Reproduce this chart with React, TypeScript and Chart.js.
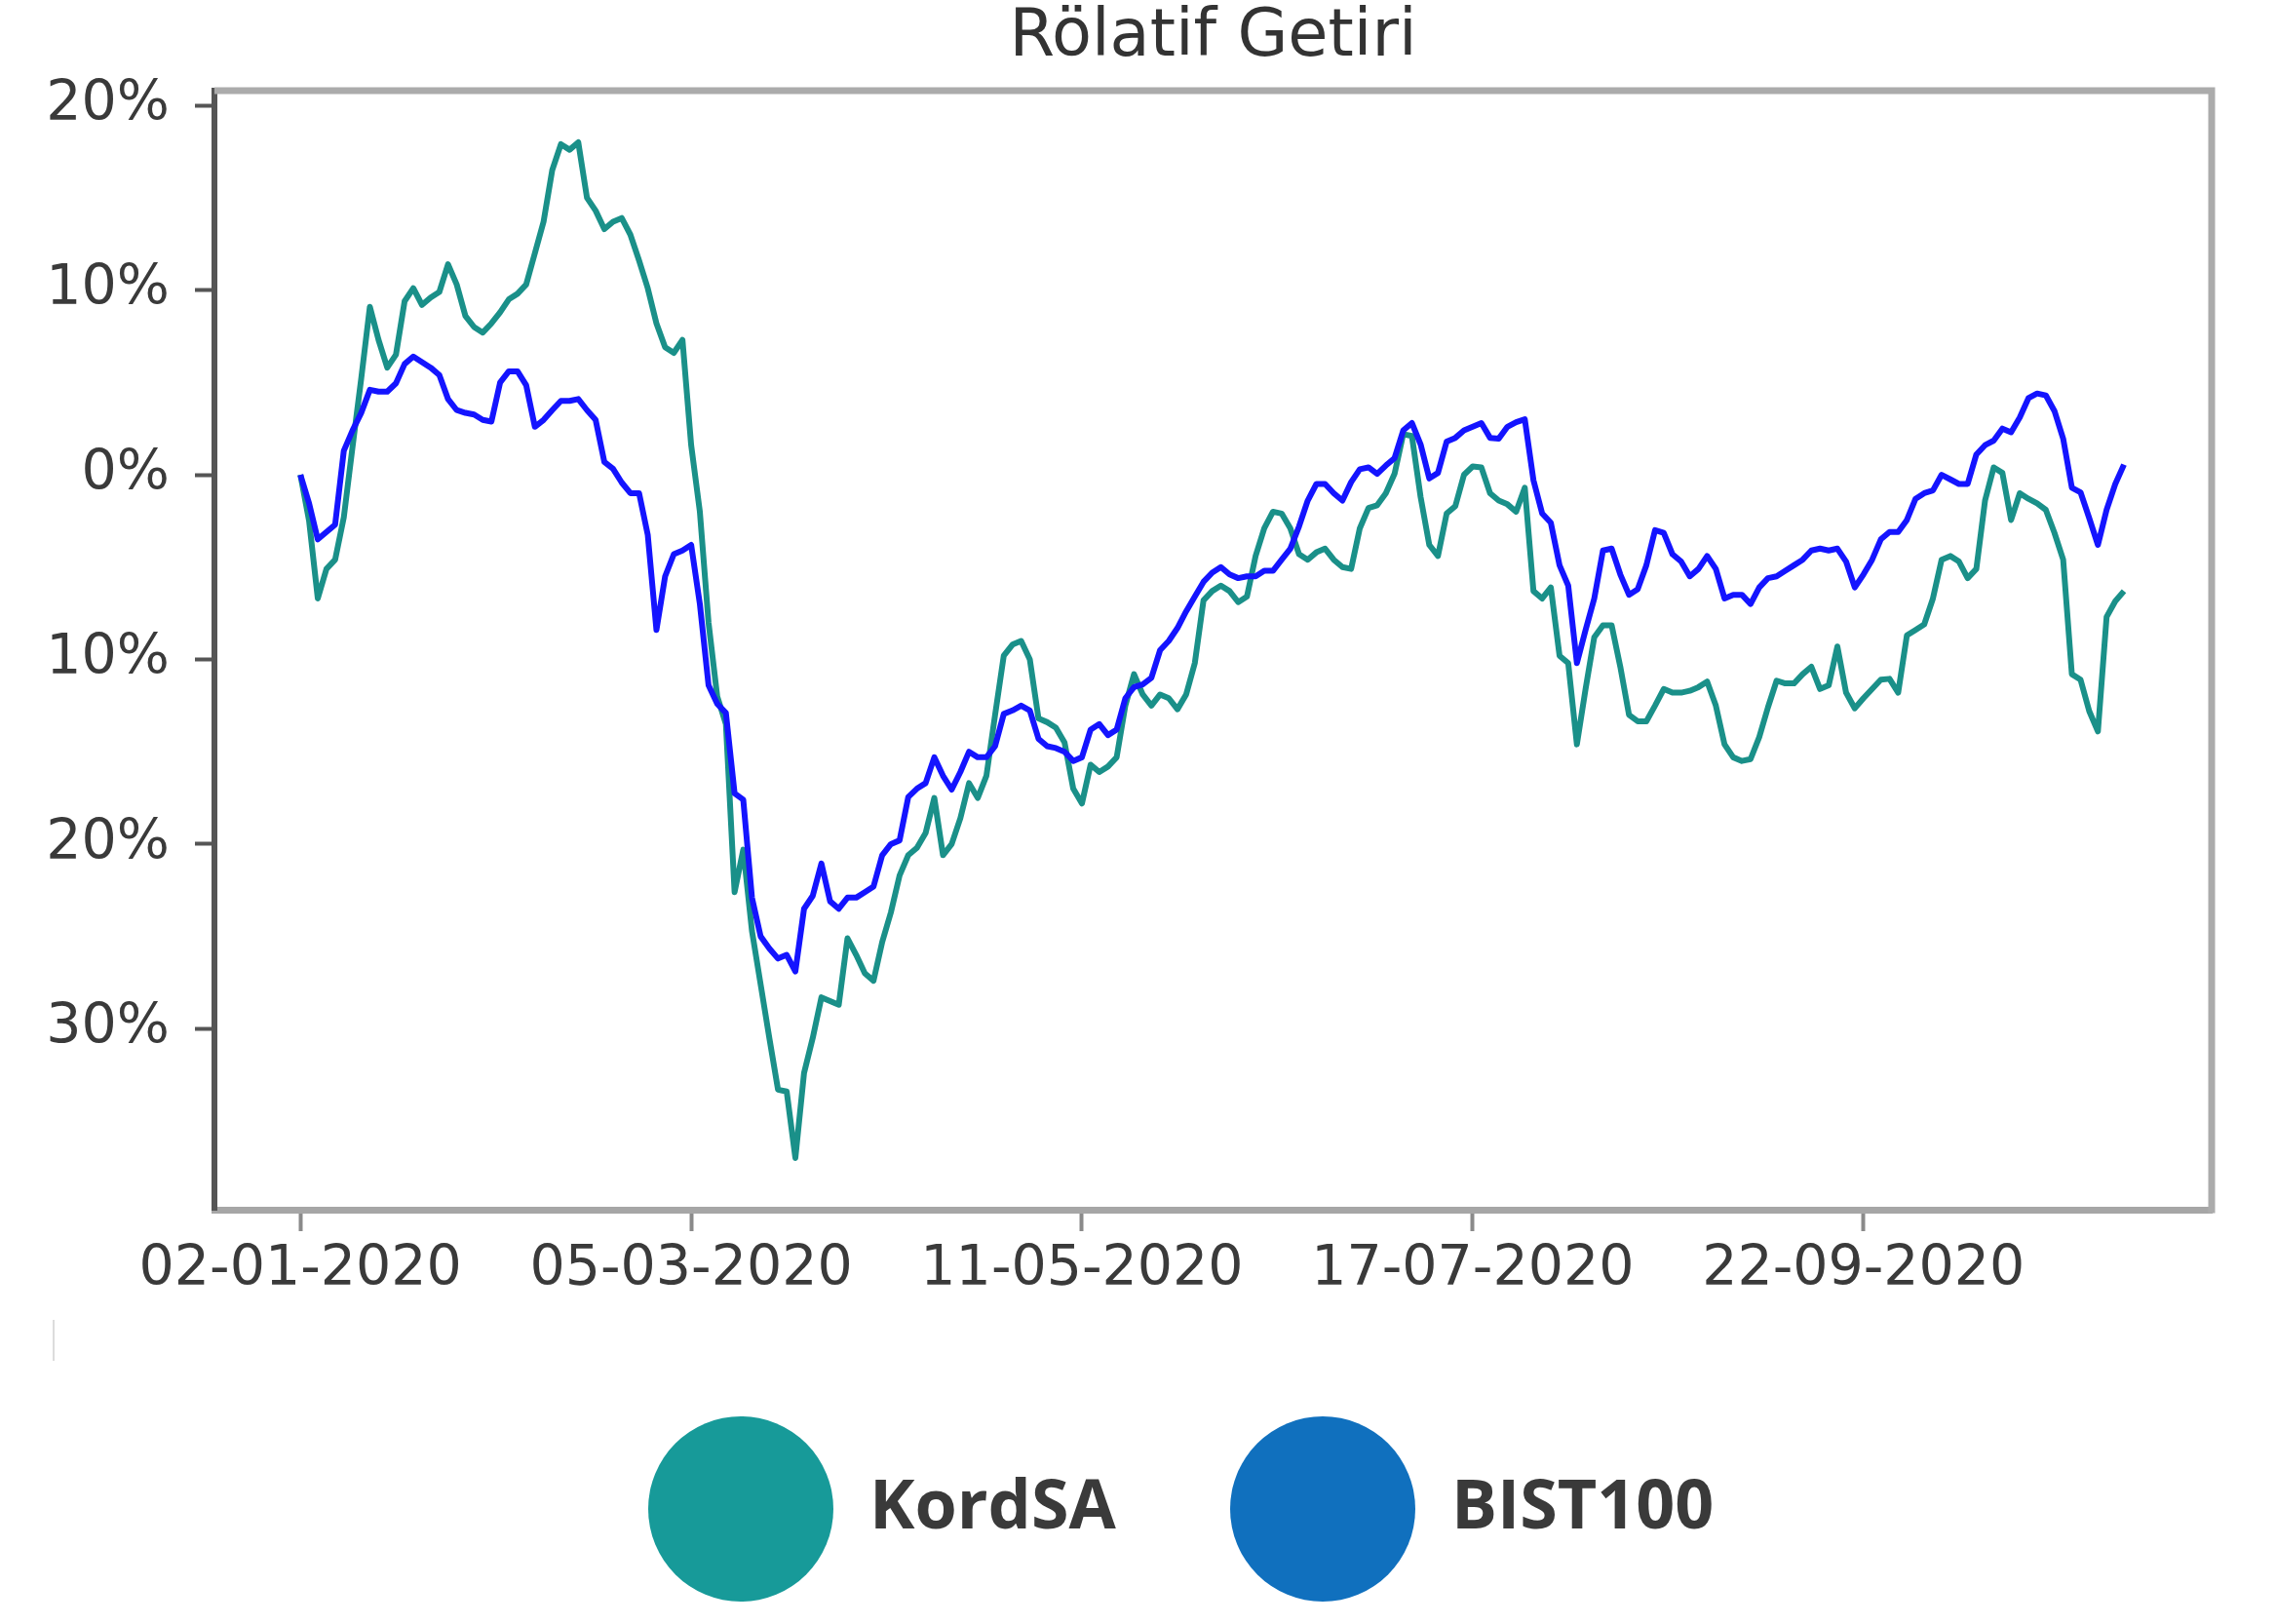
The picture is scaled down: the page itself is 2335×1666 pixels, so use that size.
import React, { useEffect, useRef } from 'react';
import { Chart, registerables } from 'chart.js';

Chart.register(...registerables);

const chartTitle = 'Rölatif Getiri';
const seriesNames = ['KordSA', 'BIST100'];
const lineColors = ['#1a9089', '#1414ff'];
const legendColors = ['#179a99', '#1070be'];

// x ticks: trading-day index -> date label
const xTickIndices = [0, 45, 90, 135, 180];
const xTickLabels = ['02-01-2020', '05-03-2020', '11-05-2020', '17-07-2020', '22-09-2020'];

// y ticks (the source image shows no minus sign)
const yTickValues = [-30, -20, -10, 0, 10, 20];
const yTickLabels = ['30%', '20%', '10%', '0%', '10%', '20%'];

// relative return, % (daily, index 0..210)
const kordsa = [
  0.0, -2.5, -6.7, -5.1, -4.6, -2.3, 1.5, 5.2, 9.1, 7.3,
  5.8, 6.5, 9.4, 10.1, 9.2, 9.6, 9.9, 11.4, 10.3, 8.6,
  8.0, 7.7, 8.2, 8.8, 9.5, 9.8, 10.3, 12.0, 13.7, 16.5,
  17.9, 17.6, 18.0, 15.0, 14.3, 13.3, 13.7, 13.9, 13.0, 11.6,
  10.1, 8.2, 6.9, 6.6, 7.3, 1.6, -2.0, -8.0, -12.0, -13.5,
  -22.6, -20.3, -24.7, -27.6, -30.5, -33.3, -33.4, -37.0, -32.4, -30.5,
  -28.3, -28.5, -28.7, -25.1, -26.0, -27.0, -27.4, -25.3, -23.7, -21.7,
  -20.6, -20.2, -19.4, -17.5, -20.6, -20.0, -18.6, -16.7, -17.5, -16.3,
  -13.0, -9.8, -9.2, -9.0, -10.0, -13.2, -13.4, -13.7, -14.5, -17.0,
  -17.8, -15.7, -16.1, -15.8, -15.3, -12.5, -10.8, -11.9, -12.5, -11.9,
  -12.1, -12.7, -11.9, -10.2, -6.8, -6.3, -6.0, -6.3, -6.9, -6.6,
  -4.4, -2.9, -2.0, -2.1, -2.9, -4.3, -4.6, -4.2, -4.0, -4.6,
  -5.0, -5.1, -2.9, -1.8, -1.65, -1.0, 0.05, 2.2, 2.1, -1.2,
  -3.8, -4.4, -2.1, -1.7, 0.0, 0.45, 0.4, -1.0, -1.4, -1.6,
  -2.0, -0.7, -6.3, -6.7, -6.1, -9.8, -10.2, -14.6, -11.6, -8.8,
  -8.15, -8.15, -10.4, -13.0, -13.35, -13.35, -12.5, -11.6, -11.8, -11.8,
  -11.7, -11.5, -11.2, -12.5, -14.6, -15.3, -15.5, -15.4, -14.2, -12.6,
  -11.15, -11.3, -11.3, -10.8, -10.4, -11.6, -11.4, -9.3, -11.8, -12.65,
  -12.1, -11.6, -11.1, -11.05, -11.8, -8.7, -8.4, -8.1, -6.7, -4.6,
  -4.4, -4.7, -5.6, -5.1, -1.4, 0.4, 0.1, -2.45, -1.0, -1.3,
  -1.55, -1.9, -3.15, -4.6, -10.8, -11.1, -12.8, -13.9, -7.7, -6.85,
  -6.3,
];

const bist100 = [
  0.0, -1.55, -3.5, -3.1, -2.7, 1.3, 2.4, 3.35, 4.6, 4.5,
  4.5, 4.95, 6.0, 6.4, 6.1, 5.8, 5.4, 4.1, 3.5, 3.35,
  3.26, 2.97, 2.88, 5.0, 5.6, 5.6, 4.85, 2.6, 2.97, 3.5,
  4.0, 4.0, 4.1, 3.5, 2.97, 0.7, 0.33, -0.42, -1.0, -1.0,
  -3.25, -8.4, -5.5, -4.3, -4.1, -3.8, -7.0, -11.4, -12.4, -12.9,
  -17.25, -17.6, -22.9, -25.0, -25.65, -26.2, -26.0, -26.9, -23.5, -22.8,
  -21.05, -23.1, -23.5, -22.9, -22.9, -22.6, -22.3, -20.6, -20.0, -19.8,
  -17.45, -17.0, -16.7, -15.3, -16.3, -17.05, -16.1, -15.0, -15.3, -15.3,
  -14.7, -12.95, -12.76, -12.5, -12.76, -14.3, -14.7, -14.8, -15.0, -15.5,
  -15.3, -13.8, -13.5, -14.1, -13.8, -12.1, -11.5, -11.35, -11.0, -9.5,
  -9.0, -8.3, -7.4, -6.6, -5.8, -5.3, -5.0, -5.4, -5.6, -5.5,
  -5.5, -5.2, -5.2, -4.6, -4.0, -2.8, -1.4, -0.5, -0.5, -1.0,
  -1.4, -0.4, 0.3, 0.4, 0.05, 0.5, 0.9, 2.4, 2.8, 1.65,
  -0.2, 0.1, 1.8, 2.0, 2.4, 2.6, 2.8, 2.0, 1.95, 2.6,
  2.85, 3.0, -0.3, -2.1, -2.6, -4.9, -6.0, -10.2, -8.4, -6.7,
  -4.1, -4.0, -5.4, -6.5, -6.2, -4.9, -3.0, -3.15, -4.3, -4.7,
  -5.5, -5.1, -4.4, -5.1, -6.7, -6.5, -6.5, -7.0, -6.1, -5.6,
  -5.5, -5.2, -4.9, -4.6, -4.1, -4.0, -4.1, -4.0, -4.7, -6.1,
  -5.4, -4.6, -3.5, -3.1, -3.1, -2.45, -1.3, -1.0, -0.85, 0.0,
  -0.25, -0.5, -0.5, 1.1, 1.6, 1.85, 2.5, 2.3, 3.1, 4.15,
  4.4, 4.3, 3.45, 1.95, -0.7, -0.95, -2.35, -3.8, -1.9, -0.5,
  0.55,
];

const W = 2335;
const H = 1400;

const framePlugin = {
  id: 'frameLines',
  afterDraw(chart: any) {
    const { ctx, chartArea: a } = chart;
    ctx.save();
    ctx.strokeStyle = '#ababab';
    ctx.lineWidth = 7;
    ctx.lineCap = 'butt';
    ctx.beginPath();
    ctx.moveTo(a.left, a.top);
    ctx.lineTo(a.right, a.top);
    ctx.moveTo(a.right, a.top - 3.5);
    ctx.lineTo(a.right, a.bottom + 3.5);
    ctx.stroke();
    ctx.restore();
  },
};

export default function App() {
  const ref = useRef<HTMLCanvasElement | null>(null);

  useEffect(() => {
    if (!ref.current) return;
    const chart = new Chart(ref.current, {
      type: 'line',
      data: {
        datasets: [
          {
            label: seriesNames[0],
            data: kordsa.map((v, i) => ({ x: i, y: v })),
            borderColor: lineColors[0],
            borderWidth: 6,
            pointRadius: 0,
            tension: 0,
            borderJoinStyle: 'round',
            order: 1,
          },
          {
            label: seriesNames[1],
            data: bist100.map((v, i) => ({ x: i, y: v })),
            borderColor: lineColors[1],
            borderWidth: 6,
            pointRadius: 0,
            tension: 0,
            borderJoinStyle: 'round',
            order: 0,
          },
        ],
      },
      options: {
        animation: false,
        responsive: false,
        devicePixelRatio: 1,
        layout: { padding: { left: 0, right: W - 2269, top: 0, bottom: H - 1241 - 120 } },
        plugins: {
          legend: { display: false },
          tooltip: { enabled: false },
          title: {
            display: true,
            text: chartTitle,
            fullSize: false,
            color: '#333333',
            font: { family: 'DejaVu Sans', size: 67, weight: 'normal', lineHeight: 1 },
            padding: { top: 6, bottom: 20 },
          },
        },
        scales: {
          x: {
            type: 'linear',
            min: -9.9,
            max: 220.1,
            afterBuildTicks: (s: any) => {
              s.ticks = xTickIndices.map((v) => ({ value: v }));
            },
            afterFit: (s: any) => {
              s.height = 120;
            },
            ticks: {
              autoSkip: false,
              maxRotation: 0,
              minRotation: 0,
              padding: 12,
              color: '#3a3a3a',
              font: { family: 'DejaVu Sans', size: 57, lineHeight: 1 },
              callback: (_v: any, i: number) => xTickLabels[i],
            },
            grid: {
              drawOnChartArea: false,
              drawTicks: true,
              tickLength: 22,
              tickWidth: 4,
              tickColor: '#8a8a8a',
            },
            border: { color: '#a6a6a6', width: 7 },
          },
          y: {
            type: 'linear',
            min: -39.8,
            max: 20.8,
            afterBuildTicks: (s: any) => {
              s.ticks = yTickValues.map((v) => ({ value: v }));
            },
            afterFit: (s: any) => {
              s.width = 220;
            },
            ticks: {
              padding: 26,
              color: '#3a3a3a',
              font: { family: 'DejaVu Sans', size: 57, lineHeight: 1 },
              callback: (_v: any, i: number) => yTickLabels[i],
            },
            grid: {
              drawOnChartArea: false,
              drawTicks: true,
              tickLength: 20,
              tickWidth: 4,
              tickColor: '#555555',
            },
            border: { color: '#555555', width: 6 },
          },
        },
      },
      plugins: [framePlugin],
    } as any);
    return () => chart.destroy();
  }, []);

  const legendText: React.CSSProperties = {
    position: 'absolute',
    top: 1506,
    fontFamily: '"Open Sans", "Noto Sans", sans-serif',
    fontWeight: 700,
    fontSize: 70,
    lineHeight: '70px',
    color: '#3a3a3a',
    whiteSpace: 'nowrap',
  };
  const circle = (cx: number, color: string): React.CSSProperties => ({
    position: 'absolute',
    left: cx - 95,
    top: 1548 - 95,
    width: 190,
    height: 190,
    borderRadius: '50%',
    background: color,
  });

  return (
    <div
      style={{
        position: 'fixed',
        left: 0,
        top: 0,
        width: W,
        height: 1666,
        background: '#ffffff',
        overflow: 'hidden',
      }}
    >
      <canvas
        ref={ref}
        width={W}
        height={H}
        style={{ position: 'absolute', left: 0, top: 0, width: W, height: H }}
      />
      <div style={{ position: 'absolute', left: 54, top: 1354, width: 2, height: 42, background: '#dcdcdc' }} />
      <div style={circle(760, legendColors[0])} />
      <div style={{ ...legendText, left: 892 }}>{seriesNames[0]}</div>
      <div style={circle(1357, legendColors[1])} />
      <div style={{ ...legendText, left: 1489 }}>{seriesNames[1]}</div>
    </div>
  );
}
